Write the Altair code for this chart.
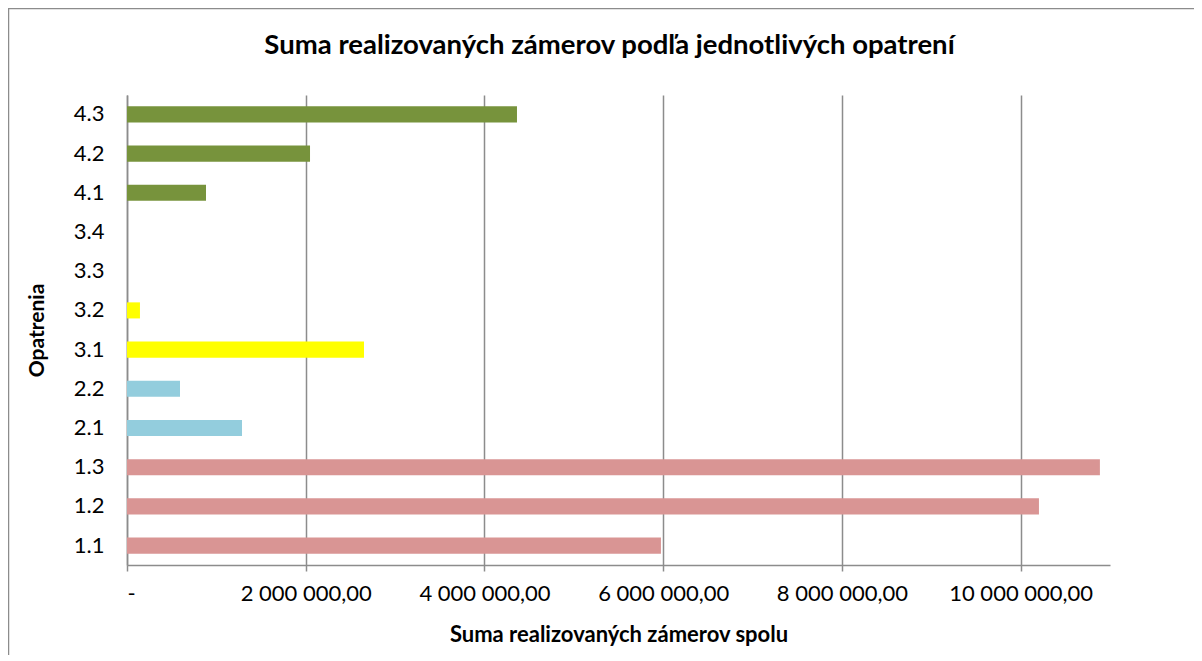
import altair as alt
import pandas as pd

categories = ["1.1", "1.2", "1.3", "2.1", "2.2", "3.1", "3.2", "3.3", "3.4", "4.1", "4.2", "4.3"]
values = [5975000, 10205000, 10887000, 1287000, 593000, 2652000, 145000, 0, 0, 884000, 2048000, 4364000]
groups = ["1", "1", "1", "2", "2", "3", "3", "3", "3", "4", "4", "4"]
group_names = ["1", "2", "3", "4"]
group_colors = ["#D99594", "#93CDDD", "#FFFF00", "#77933C"]
x_ticks = [0, 2000000, 4000000, 6000000, 8000000, 10000000]

FONT = "Lato"
W, H = 983, 470

df = pd.DataFrame({"opatrenie": categories, "suma": values, "skupina": groups})

bars = alt.Chart(df).mark_bar().encode(
    y=alt.Y(
        "opatrenie:N",
        sort=list(reversed(categories)),
        scale=alt.Scale(paddingInner=0.59, paddingOuter=0.29),
        axis=alt.Axis(
            title="Opatrenia",
            titleFont=FONT, titleFontSize=21, titleFontWeight="bold", titleColor="#000000",
            titleAngle=270, titleX=-90, titleY=H / 2, titleAlign="center", titleBaseline="middle",
            labelFont=FONT, labelFontSize=22, labelColor="#000000", labelPadding=23,
            ticks=False, domainColor="#8c8c8c", domainWidth=1.5, grid=False,
        ),
    ),
    x=alt.X(
        "suma:Q",
        scale=alt.Scale(domain=[0, 11000000], nice=False),
        axis=alt.Axis(
            title="Suma realizovaných zámerov spolu",
            titleFont=FONT, titleFontSize=22, titleFontWeight="bold", titleColor="#000000",
            titleY=69, titleBaseline="middle",
            values=x_ticks,
            labelExpr="datum.value == 0 ? '-' : format(datum.value / 1000000, 'd') + ' 000 000,00'",
            labelFont=FONT, labelFontSize=22, labelColor="#000000", labelPadding=12,
            tickSize=6, tickColor="#8c8c8c", tickWidth=1.5,
            domainColor="#8c8c8c", domainWidth=1.5,
            grid=True, gridColor="#8c8c8c", gridWidth=1.5,
        ),
    ),
    color=alt.Color(
        "skupina:N",
        scale=alt.Scale(domain=group_names, range=group_colors),
        legend=None,
    ),
)

frame = alt.Chart(pd.DataFrame({"a": [0]})).mark_rect(
    fill=None, stroke="#8c8c8c", strokeWidth=1.5
).encode(
    x=alt.value(-118.5), y=alt.value(-86.5), x2=alt.value(W + 200), y2=alt.value(H + 200)
)

chart = alt.layer(frame, bars).properties(
    width=W,
    height=H,
    autosize=alt.AutoSizeParams(type="none"),
    padding={"left": 119, "top": 87, "right": 84, "bottom": 90},
    title=alt.TitleParams(
        "Suma realizovaných zámerov podľa jednotlivých opatrení",
        font=FONT, fontSize=27.5, fontWeight="bold", color="#000000",
        anchor="middle", frame="group", offset=0, dx=-9, dy=52,
    ),
).configure_view(stroke=None)

chart.save("out.html", embed_options={"renderer": "svg", "actions": False})
